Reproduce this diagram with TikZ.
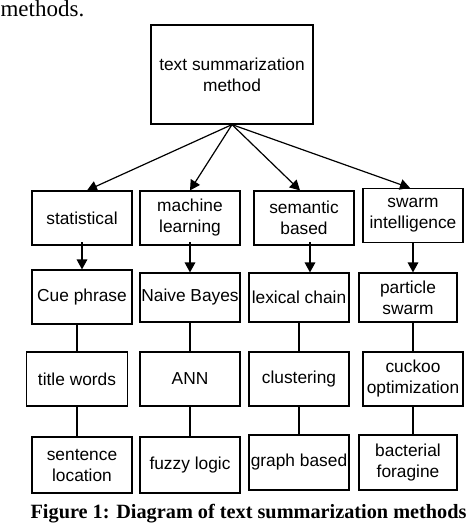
\documentclass[tikz,border=0pt]{standalone}
\usepackage{fontspec}
\setmainfont{Liberation Serif}
\newfontfamily\boxfont{Liberation Sans}
\usetikzlibrary{arrows.meta}

\tikzset{every picture/.style={line width=0.9pt}}
\tikzset{
  mbox/.style={draw, rectangle, align=center, inner sep=1pt,
    minimum width=75pt, minimum height=40.5pt,
    font=\boxfont\fontsize{13}{15.75}\selectfont},
  tip/.style={-{Triangle[length=7.5pt,width=8pt]}}
}

\begin{document}
\begin{tikzpicture}[x=0.75pt,y=0.75pt,yscale=-1,xscale=1]
\useasboundingbox (0,0) rectangle (474,525);

% Text Node
\node (prev) [anchor=base west, font=\fontsize{17.25}{20}\selectfont, inner sep=0pt] at (0,16) {methods.};

%Shape: Rectangle [root]
\node (root) [mbox, minimum width=121.5pt, minimum height=74.25pt] at (232,74.5) {text summarization\\method};

%Shape: Rectangle [first row]
\node (stat)  [mbox] at (82,218)    {statistical};
\node (ml)    [mbox] at (190,218)   {machine\\learning};
\node (sem)   [mbox] at (304,218)   {semantic\\based};
\node (swarm) [mbox] at (413,215.5) {swarm\\intelligence};

%Shape: Rectangle [second row]
\node (cue)      [mbox] at (82,297) {Cue phrase};
\node (bayes)    [mbox, minimum height=36.75pt] at (190,297.5) {Naive Bayes};
\node (lexical)  [mbox, minimum height=36.75pt] at (299,297.5) {lexical chain};
\node (particle) [mbox, minimum height=36.75pt, minimum width=73.5pt] at (408,297.5) {particle\\swarm};

%Shape: Rectangle [third row]
\node (title)   [mbox, minimum width=75.75pt] at (77,379) {title words};
\node (ann)     [mbox] at (190,379) {ANN};
\node (cluster) [mbox] at (299,379) {clustering};
\node (cuckoo)  [mbox] at (413,379) {cuckoo\\optimization};

%Shape: Rectangle [fourth row]
\node (sentence) [mbox, minimum height=42pt] at (82,465) {sentence\\location};
\node (fuzzy)    [mbox, minimum height=42pt] at (190,465) {fuzzy logic};
\node (graph)    [mbox, minimum height=41.25pt] at (299,462.5) {graph based};
\node (bact)     [mbox, minimum height=41.25pt, minimum width=73.5pt] at (408,462.5) {bacterial\\foragine};

%Arrows from the root
\draw [tip] (root.south) -- ([xshift=3.75pt]stat.north);
\draw [tip] (root.south) -- (ml.north);
\draw [tip] (root.south) -- ([xshift=-3pt]sem.north);
\draw [tip] (root.south) -- ([xshift=-2.25pt]swarm.north);

%Arrows to the second row
\coordinate (semout) at ([xshift=4.5pt,yshift=-2.5pt]sem.south);
\draw [tip] ([yshift=-2.5pt]stat.south) -- (cue.north);
\draw [tip] ([yshift=-2.5pt]ml.south) -- (bayes.north);
\draw [tip] (semout) -- (semout |- lexical.north);
\draw [tip] (swarm.south) -- (swarm.south |- particle.north);

%Straight Lines [second to third row]
\draw (cue.south -| title.north) -- (title.north);
\draw (bayes.south) -- (ann.north);
\draw (lexical.south) -- (cluster.north);
\draw (particle.south -| cuckoo.north) -- (cuckoo.north);

%Straight Lines [third to fourth row]
\draw (title.south) -- (title.south |- sentence.north);
\draw (ann.south) -- (fuzzy.north);
\draw (cluster.south) -- (graph.north);
\draw (cuckoo.south) -- (cuckoo.south |- bact.north);

% Text Node
\node (caption) [anchor=base west, font=\bfseries\fontsize{15.2}{18}\selectfont, inner sep=0pt] at (30,518) {Figure 1: Diagram of text summarization methods};

\end{tikzpicture}
\end{document}
